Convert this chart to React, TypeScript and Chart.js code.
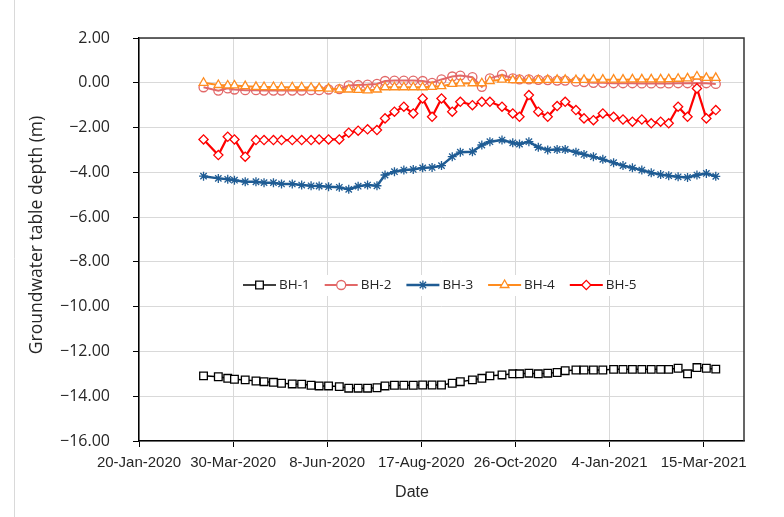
import React, { useEffect, useRef } from 'react';
import { Chart, registerables } from 'chart.js';

Chart.register(...registerables);

// ---------- data ----------
const dates = [
  '2020-03-08', '2020-03-19', '2020-03-26', '2020-03-31', '2020-04-08', '2020-04-16', '2020-04-22', '2020-04-29',
  '2020-05-05', '2020-05-13', '2020-05-20', '2020-05-27', '2020-06-02', '2020-06-09', '2020-06-17', '2020-06-24',
  '2020-07-01', '2020-07-08', '2020-07-15', '2020-07-21', '2020-07-28', '2020-08-04', '2020-08-11', '2020-08-18',
  '2020-08-25', '2020-09-01', '2020-09-09', '2020-09-15', '2020-09-24', '2020-10-01', '2020-10-07', '2020-10-16',
  '2020-10-24', '2020-10-29', '2020-11-05', '2020-11-12', '2020-11-19', '2020-11-26', '2020-12-02', '2020-12-10',
  '2020-12-16', '2020-12-23', '2020-12-30', '2021-01-07', '2021-01-14', '2021-01-21', '2021-01-28', '2021-02-04',
  '2021-02-11', '2021-02-17', '2021-02-24', '2021-03-03', '2021-03-10', '2021-03-17', '2021-03-24',
];

const bh1 = [
  -13.09, -13.13, -13.2, -13.24, -13.27, -13.32, -13.35, -13.38, -13.42, -13.45,
  -13.46, -13.51, -13.54, -13.54, -13.57, -13.64, -13.64, -13.64, -13.62, -13.54,
  -13.51, -13.51, -13.51, -13.5, -13.5, -13.5, -13.42, -13.35, -13.27, -13.2,
  -13.09, -13.05, -13.0, -13.0, -12.97, -13.0, -12.97, -12.94, -12.86, -12.83,
  -12.83, -12.83, -12.83, -12.8, -12.8, -12.8, -12.8, -12.8, -12.8, -12.8,
  -12.75, -13.0, -12.72, -12.75, -12.79,
];

const bh2 = [
  -0.2, -0.35, -0.25, -0.3, -0.33, -0.33, -0.35, -0.35, -0.35, -0.35,
  -0.35, -0.33, -0.33, -0.3, -0.28, -0.12, -0.1, -0.08, -0.05, 0.08,
  0.1, 0.1, 0.1, 0.08, 0.0, 0.15, 0.28, 0.32, 0.25, -0.18,
  0.2, 0.36, 0.2, 0.15, 0.15, 0.13, 0.12, 0.1, 0.1, 0.05,
  0.03, 0.0, 0.0, -0.02, -0.02, -0.02, -0.03, -0.03, -0.03, -0.03,
  -0.02, -0.02, -0.01, -0.02, -0.05,
];

const bh3 = [
  -4.17, -4.27, -4.31, -4.35, -4.42, -4.42, -4.46, -4.46, -4.52, -4.52,
  -4.57, -4.6, -4.61, -4.64, -4.67, -4.76, -4.62, -4.57, -4.6, -4.12,
  -3.97, -3.9, -3.87, -3.8, -3.78, -3.7, -3.3, -3.1, -3.08, -2.78,
  -2.63, -2.56, -2.68, -2.74, -2.63, -2.88, -3.0, -2.98, -2.98, -3.1,
  -3.2, -3.3, -3.42, -3.57, -3.7, -3.8, -3.9, -4.02, -4.1, -4.15,
  -4.2, -4.23, -4.12, -4.05, -4.18,
];

const bh4 = [
  0.0, -0.1, -0.12, -0.12, -0.15, -0.18, -0.19, -0.19, -0.2, -0.2,
  -0.2, -0.22, -0.24, -0.26, -0.3, -0.3, -0.32, -0.34, -0.3, -0.2,
  -0.2, -0.2, -0.2, -0.2, -0.18, -0.15, -0.05, -0.03, -0.02, -0.02,
  0.08, 0.14, 0.12, 0.12, 0.12, 0.12, 0.13, 0.13, 0.13, 0.12,
  0.13, 0.14, 0.14, 0.14, 0.14, 0.15, 0.15, 0.15, 0.15, 0.16,
  0.18, 0.2, 0.28, 0.22, 0.22,
];

const bh5 = [
  -2.53, -3.23, -2.41, -2.53, -3.3, -2.56, -2.56, -2.56, -2.56, -2.56,
  -2.56, -2.56, -2.53, -2.53, -2.53, -2.23, -2.14, -2.08, -2.11, -1.59,
  -1.29, -1.07, -1.37, -0.7, -1.52, -0.7, -1.29, -0.85, -1.0, -0.85,
  -0.85, -1.07, -1.37, -1.52, -0.55, -1.29, -1.52, -1.04, -0.85, -1.22,
  -1.59, -1.67, -1.37, -1.52, -1.64, -1.74, -1.64, -1.81, -1.74, -1.81,
  -1.07, -1.52, -0.25, -1.59, -1.22,
];

const seriesNames = ['BH-1', 'BH-2', 'BH-3', 'BH-4', 'BH-5'];
const xTickLabels = ['20-Jan-2020', '30-Mar-2020', '8-Jun-2020', '17-Aug-2020', '26-Oct-2020', '4-Jan-2021', '15-Mar-2021'];
const X_ORIGIN = '2020-01-20';
const X_END = '2021-04-14';
const X_STEP_DAYS = 70;
const Y_MIN = -16;
const Y_MAX = 2;
const Y_STEP = 2;

// ---------- helpers ----------
const toDay = (s: string) => {
  const [y, m, d] = s.split('-').map(Number);
  const [oy, om, od] = X_ORIGIN.split('-').map(Number);
  return Math.round((Date.UTC(y, m - 1, d) - Date.UTC(oy, om - 1, od)) / 86400000);
};

const styles = [
  { color: '#000000', point: 'rect', radius: 5.4, width: 1.5, fill: '#ffffff' },
  { color: '#E26868', point: 'circle', radius: 4.5, width: 2, fill: 'rgba(255,255,255,0)' },
  { color: '#1F5C94', point: 'star', radius: 4.5, width: 2.5, fill: '#1F5C94' },
  { color: '#FF8C1F', point: 'triangle', radius: 5, width: 2, fill: '#ffffff' },
  { color: '#FF0000', point: 'rectRot', radius: 4.6, width: 2.2, fill: '#ffffff' },
];

const FONT_SANS = '"Open Sans", "DejaVu Sans", sans-serif';
const FONT_ARIAL = '"Liberation Sans", Arial, sans-serif';

function drawMarker(ctx: CanvasRenderingContext2D, kind: string, x: number, y: number, r: number, color: string, fill: string) {
  ctx.save();
  ctx.strokeStyle = color;
  ctx.fillStyle = fill;
  ctx.lineWidth = 1.3;
  ctx.beginPath();
  if (kind === 'rect') {
    const s = r * Math.SQRT1_2;
    ctx.rect(x - s, y - s, 2 * s, 2 * s);
    ctx.fill();
    ctx.stroke();
  } else if (kind === 'circle') {
    ctx.arc(x, y, r, 0, Math.PI * 2);
    ctx.fill();
    ctx.stroke();
  } else if (kind === 'triangle') {
    const h = r * 1.5;
    const edge = (3 * r) / Math.sqrt(3);
    ctx.moveTo(x, y - r);
    ctx.lineTo(x - edge / 2, y - r + h);
    ctx.lineTo(x + edge / 2, y - r + h);
    ctx.closePath();
    ctx.fill();
    ctx.stroke();
  } else if (kind === 'rectRot') {
    ctx.moveTo(x, y - r);
    ctx.lineTo(x + r, y);
    ctx.lineTo(x, y + r);
    ctx.lineTo(x - r, y);
    ctx.closePath();
    ctx.fill();
    ctx.stroke();
  } else if (kind === 'star') {
    const d = r * Math.SQRT1_2;
    ctx.moveTo(x - r, y); ctx.lineTo(x + r, y);
    ctx.moveTo(x, y - r); ctx.lineTo(x, y + r);
    ctx.moveTo(x - d, y - d); ctx.lineTo(x + d, y + d);
    ctx.moveTo(x - d, y + d); ctx.lineTo(x + d, y - d);
    ctx.stroke();
  }
  ctx.restore();
}

const overlayPlugin = {
  id: 'overlay',
  afterDraw(chart: any) {
    const ctx: CanvasRenderingContext2D = chart.ctx;
    const a = chart.chartArea;
    ctx.save();

    // outer chart frame line (left)
    ctx.strokeStyle = '#d9d9d9';
    ctx.lineWidth = 1;
    ctx.beginPath();
    ctx.moveTo(14.5, 0);
    ctx.lineTo(14.5, chart.height);
    ctx.stroke();

    // plot-area border: top and right
    ctx.strokeStyle = '#333333';
    ctx.lineWidth = 1.5;
    ctx.beginPath();
    ctx.moveTo(a.left, a.top);
    ctx.lineTo(a.right, a.top);
    ctx.lineTo(a.right, a.bottom);
    ctx.stroke();

    // axis titles
    ctx.fillStyle = '#262626';
    ctx.textAlign = 'center';
    ctx.textBaseline = 'middle';
    ctx.font = `16px ${FONT_ARIAL}`;
    ctx.fillText('Date', 412, 493);

    ctx.save();
    ctx.translate(37, 235);
    ctx.rotate(-Math.PI / 2);
    ctx.font = `17.5px ${FONT_SANS}`;
    ctx.fillText('Groundwater table depth (m)', 0, 0);
    ctx.restore();

    // legend inside plot area
    const ly = 285;
    ctx.fillStyle = '#ffffff';
    ctx.fillRect(236, 275, 406, 21);
    const step = 81.7;
    chart.data.datasets.forEach((ds: any, i: number) => {
      const st = styles[i];
      const x0 = 243 + i * step;
      ctx.strokeStyle = st.color;
      ctx.lineWidth = st.width;
      ctx.beginPath();
      ctx.moveTo(x0, ly);
      ctx.lineTo(x0 + 33, ly);
      ctx.stroke();
      drawMarker(ctx, st.point, x0 + 16.5, ly, st.radius, st.color, st.fill === 'rgba(255,255,255,0)' ? '#ffffff' : st.fill);
      ctx.fillStyle = '#262626';
      ctx.font = `13.5px ${FONT_SANS}`;
      ctx.textAlign = 'left';
      ctx.textBaseline = 'middle';
      ctx.fillText(ds.label, x0 + 36, ly + 0.5);
    });

    ctx.restore();
  },
};

export default function App() {
  const canvasRef = useRef<HTMLCanvasElement | null>(null);

  useEffect(() => {
    const canvas = canvasRef.current;
    if (!canvas) return;
    const allValues = [bh1, bh2, bh3, bh4, bh5];
    const datasets = allValues.map((vals, i) => {
      const st = styles[i];
      return {
        label: seriesNames[i],
        data: vals.map((v, k) => ({ x: toDay(dates[k]), y: v })),
        borderColor: st.color,
        backgroundColor: st.color,
        borderWidth: st.width,
        pointStyle: st.point,
        pointRadius: st.radius,
        pointHoverRadius: st.radius,
        pointBorderColor: st.color,
        pointBackgroundColor: st.fill,
        pointBorderWidth: 1.3,
        tension: 0,
        fill: false,
        order: 5 - i,
      };
    });

    const chart = new Chart(canvas, {
      type: 'line',
      data: { datasets },
      plugins: [overlayPlugin],
      options: {
        responsive: false,
        animation: false,
        devicePixelRatio: 1,
        layout: { padding: { left: 0, top: 38, right: 40, bottom: 0 } },
        plugins: {
          legend: { display: false },
          tooltip: { enabled: false },
        },
        scales: {
          x: {
            type: 'linear',
            min: 0,
            max: toDay(X_END),
            afterFit: (s: any) => {
              s.height = 76;
              s.paddingLeft = 0;
              s.paddingRight = 0;
            },
            grid: {
              color: '#d9d9d9',
              lineWidth: 1,
              tickLength: 6,
              tickColor: '#000000',
              drawOnChartArea: true,
            },
            border: { display: true, color: '#000000', width: 1.5 },
            ticks: {
              stepSize: X_STEP_DAYS,
              includeBounds: false,
              autoSkip: false,
              maxRotation: 0,
              minRotation: 0,
              padding: 7,
              color: '#262626',
              font: { family: FONT_ARIAL, size: 15 },
              callback: (v: any) => {
                const idx = Math.round(Number(v) / X_STEP_DAYS);
                return Number(v) % X_STEP_DAYS === 0 ? xTickLabels[idx] ?? '' : '';
              },
            },
          },
          y: {
            type: 'linear',
            min: Y_MIN,
            max: Y_MAX,
            afterFit: (s: any) => {
              s.width = 139;
              s.paddingTop = 0;
              s.paddingBottom = 0;
            },
            grid: {
              color: '#d9d9d9',
              lineWidth: 1,
              tickLength: 6,
              tickColor: '#000000',
            },
            border: { display: true, color: '#000000', width: 1.5 },
            ticks: {
              stepSize: Y_STEP,
              padding: 23,
              color: '#262626',
              font: { family: FONT_SANS, size: 16 },
              callback: (v: any) => Number(v).toFixed(2).replace('-', '\u2212'),
            },
          },
        },
      },
    } as any);

    return () => chart.destroy();
  }, []);

  return (
    <div style={{ position: 'fixed', left: 0, top: 0, width: 784, height: 517, background: '#ffffff' }}>
      <canvas ref={canvasRef} width={784} height={517} style={{ width: 784, height: 517, display: 'block' }} />
    </div>
  );
}
